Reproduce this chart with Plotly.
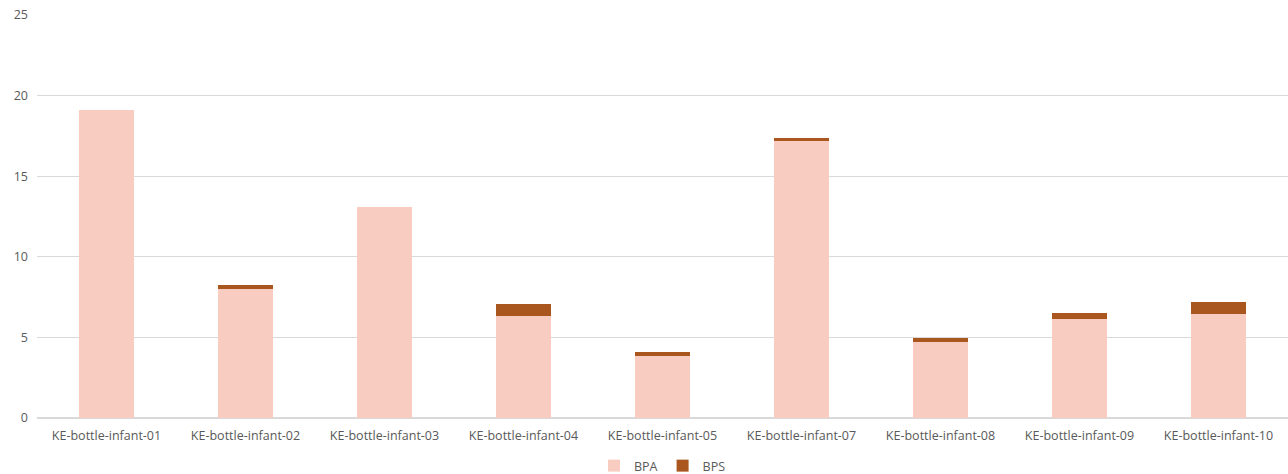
import plotly.graph_objects as go

samples = [
    "KE-bottle-infant-01", "KE-bottle-infant-02", "KE-bottle-infant-03",
    "KE-bottle-infant-04", "KE-bottle-infant-05", "KE-bottle-infant-07",
    "KE-bottle-infant-08", "KE-bottle-infant-09", "KE-bottle-infant-10",
]
bpa = [19.08, 8.00, 13.10, 6.30, 3.87, 17.20, 4.74, 6.13, 6.44]
bps = [0.0, 0.25, 0.0, 0.79, 0.21, 0.18, 0.23, 0.38, 0.75]

font = dict(family="Open Sans, Liberation Sans, sans-serif", size=12.5, color="#595959")

fig = go.Figure()
fig.add_trace(go.Bar(x=samples, y=bpa, name="BPA", marker_color="#F8CCC0",
                     marker_line_width=0))
fig.add_trace(go.Bar(x=samples, y=bps, name="BPS", marker_color="#A9561F",
                     marker_line_width=0))

fig.update_layout(
    barmode="stack",
    bargap=0.6,
    width=1288, height=474,
    margin=dict(l=37, r=0, t=15, b=56, autoexpand=False),
    plot_bgcolor="white", paper_bgcolor="white",
    font=font,
    showlegend=True,
    legend=dict(orientation="h", x=0.5, xanchor="center",
                yref="container", y=8 / 474, yanchor="middle",
                traceorder="normal", itemwidth=30,
                font=font, tracegroupgap=0),
)
fig.update_yaxes(range=[0, 25], dtick=5, showgrid=True, gridcolor="#D9D9D9",
                 gridwidth=1, zeroline=True, zerolinecolor="#D9D9D9",
                 ticks="", tickfont=font, ticklabelstandoff=8, fixedrange=True,
                 automargin=False)
fig.update_xaxes(showgrid=False, showline=False, ticks="", tickfont=font,
                 ticklabelstandoff=8, fixedrange=True, automargin=False)

fig.write_html("out.html")
